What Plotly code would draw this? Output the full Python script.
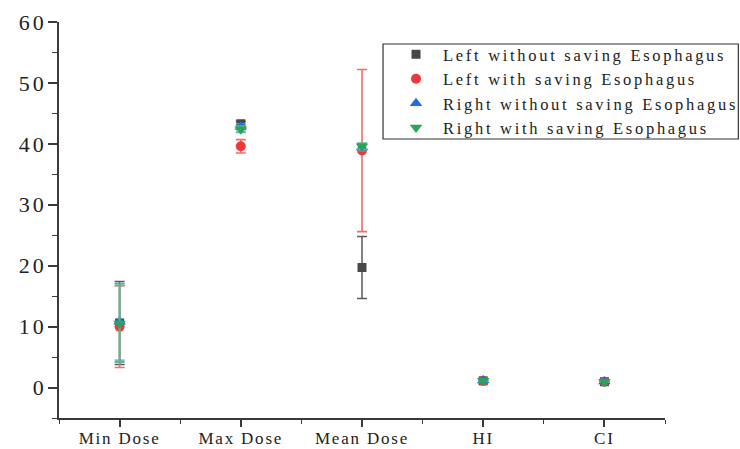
import plotly.graph_objects as go

# Dose metrics compared for left/right plans, with and without esophagus sparing
categories = ["Min Dose", "Max Dose", "Mean Dose", "HI", "CI"]

left_without = [10.6, 43.3, 19.7, 1.1, 0.95]
left_without_err = [6.8, 0.4, 5.1, 0.05, 0.05]

left_with = [10.0, 39.6, 38.9, 1.1, 0.95]
left_with_err = [6.7, 1.1, 13.3, 0.05, 0.05]

right_without = [10.8, 42.8, 39.4, 1.15, 1.0]
right_without_err = [6.3, 0.5, 0.6, 0.05, 0.05]

right_with = [10.5, 42.4, 39.6, 1.1, 0.95]
right_with_err = [6.3, 0.5, 0.5, 0.05, 0.05]

y_ticks = [0, 10, 20, 30, 40, 50, 60]

x_pos = list(range(len(categories)))
FONT = "Liberation Serif, Times New Roman, serif"
AXIS_COLOR = "#3a3a3a"

series = [
    ("Left without saving Esophagus", left_without, left_without_err,
     "square", 9, "#484848", "#5a5a5a", 1.5),
    ("Left with saving Esophagus", left_with, left_with_err,
     "circle", 10, "#f0383a", "#f26b6b", 1.6),
    ("Right without saving Esophagus", right_without, right_without_err,
     "triangle-up", 11, "#1f6fe0", "#5b93e6", 1.4),
    ("Right with saving Esophagus", right_with, right_with_err,
     "triangle-down", 11, "#2ea35c", "#5fbb82", 2.0),
]

fig = go.Figure()
for name, vals, errs, symbol, size, color, ecolor, ewidth in series:
    fig.add_trace(go.Scatter(
        x=x_pos, y=vals, name=name, mode="markers",
        marker=dict(symbol=symbol, size=size, color=color, line=dict(width=0)),
        error_y=dict(type="data", array=errs, visible=True,
                     color=ecolor, thickness=ewidth, width=5),
    ))

# framed legend box
fig.add_shape(type="rect", xref="paper", yref="paper",
              x0=0.5347, x1=1.121, y0=0.7045, y1=0.9444,
              line=dict(color="#333", width=1.2), fillcolor="white", layer="below")

fig.update_layout(
    width=740, height=449,
    margin=dict(l=59, r=75, t=22, b=31),
    plot_bgcolor="white", paper_bgcolor="white",
    font=dict(family=FONT, color="#222"),
    showlegend=True,
    legend=dict(
        x=0.5446, y=0.962, xanchor="left", yanchor="top",
        bgcolor="rgba(0,0,0,0)", borderwidth=0,
        font=dict(family=FONT, size=16.5, color="#222"),
        tracegroupgap=0, itemwidth=44,
    ),
)

fig.update_xaxes(
    range=[-0.5, 4.5], tickmode="array", tickvals=x_pos, ticktext=categories,
    showline=True, linecolor=AXIS_COLOR, linewidth=1.5, mirror=False,
    ticks="outside", ticklen=7, tickwidth=1.5, tickcolor=AXIS_COLOR,
    tickfont=dict(family=FONT, size=17, color="#222"),
    ticklabelstandoff=-3,
    minor=dict(tickmode="linear", tick0=-0.5, dtick=1, ticks="outside",
               ticklen=4, tickwidth=1.3, tickcolor=AXIS_COLOR),
    showgrid=False, zeroline=False, automargin=False,
)

fig.update_yaxes(
    range=[-5, 60], tickmode="array", tickvals=y_ticks,
    showline=True, linecolor=AXIS_COLOR, linewidth=1.5,
    ticks="outside", ticklen=9, tickwidth=1.5, tickcolor=AXIS_COLOR,
    tickfont=dict(family=FONT, size=22, color="#222"),
    ticklabelstandoff=-3,
    minor=dict(tickmode="linear", tick0=-5, dtick=10, ticks="outside",
               ticklen=5, tickwidth=1.3, tickcolor=AXIS_COLOR),
    showgrid=False, zeroline=False, automargin=False,
)

# wide-tracked lettering for legend and tick labels; the legend's clip
# region is sized before tracking applies, so it is lifted afterwards
tracking = """
var s = document.createElement('style');
s.textContent = '.legendtext{letter-spacing:2.7px}'
  + ' .ytick text{letter-spacing:3px}'
  + ' .xtick text{letter-spacing:1.8px}';
document.head.appendChild(s);
var gd = document.getElementById('{plot_id}');
gd.querySelectorAll('.legend .scrollbox, .legend').forEach(function(el) {
  el.removeAttribute('clip-path');
});
"""

fig.write_html("out.html", post_script=tracking)
